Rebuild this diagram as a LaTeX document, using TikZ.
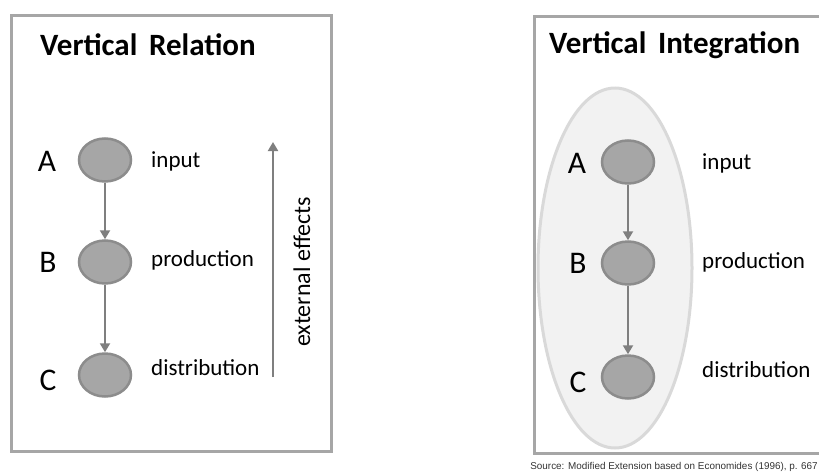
\documentclass[tikz,border=0pt]{standalone}
\usepackage{fontspec}
\setmainfont{Carlito}
\newfontfamily\srcfont{Liberation Sans}
\usetikzlibrary{shapes.geometric,arrows.meta}
\definecolor{frameGray}{HTML}{A6A6A6}
\definecolor{nodeFill}{HTML}{A6A6A6}
\definecolor{nodeLine}{HTML}{8C8C8C}
\definecolor{flowGray}{HTML}{7F7F7F}
\definecolor{groupFill}{HTML}{F2F2F2}
\definecolor{groupLine}{HTML}{D9D9D9}
\tikzset{
  panel/.style={draw=frameGray, line width=3pt},
  stage/.style={ellipse, draw=nodeLine, fill=nodeFill, line width=2.5pt,
    minimum width=52pt, minimum height=43pt, inner sep=0pt},
  flow/.style={draw=flowGray, line width=2pt, -{Triangle[width=10pt,length=9pt]}},
  heading/.style={font=\fontsize{31}{31}\selectfont\bfseries, anchor=west, inner sep=0pt},
  letter/.style={font=\fontsize{31.5}{31.5}\selectfont, inner sep=0pt},
  tag/.style={font=\fontsize{23}{23}\selectfont, anchor=west, inner sep=0pt},
  group/.style={ellipse, draw=groupLine, fill=groupFill, line width=3pt,
    minimum width=154pt, minimum height=360pt, inner sep=0pt},
  source/.style={font=\srcfont\fontsize{9.9}{9.9}\selectfont, text=black!80, anchor=east, inner sep=0pt}
}
\begin{document}
\begin{tikzpicture}[x=1pt, y=-1pt]
  \useasboundingbox (0,0) rectangle (819,474);
  \clip (0,0) rectangle (819,474);

  % left panel: vertical relation
  \draw[panel] (11.5,15.5) rectangle (331.5,451.5);
  \node[heading] (t1) at (40,45) {Vertical\hspace{0.15em} Relation};

  \node[stage] (a1) at (105,160) {};
  \node[stage] (b1) at (105,262) {};
  \node[stage] (c1) at (105,375) {};
  \draw[flow] (a1) -- (b1);
  \draw[flow] (b1) -- (c1);

  \node[letter] (la1) at (47,161) {A};
  \node[letter] (lb1) at (48,262) {B};
  \node[letter] (lc1) at (48,380) {C};

  \node[tag] (i1) at (151,161) {input};
  \node[tag] (p1) at (151,260) {production};
  \node[tag] (d1) at (151,368) {distribution};

  \coordinate (e0) at (273,377);
  \coordinate (e1) at (273,142);
  \draw[flow] (e0) -- (e1);
  \node[tag, anchor=center, rotate=90, font=\fontsize{24}{24}\selectfont] (ext) at (302,272) {external effects};

  % right panel: vertical integration
  \draw[panel] (534.5,16.5) rectangle (840,453.5);
  \node[heading] (t2) at (549,45) {Vertical\hspace{0.15em} Integration};

  \node[group] (grp) at (615,268) {};

  \node[stage] (a2) at (628,162) {};
  \node[stage] (b2) at (628,263) {};
  \node[stage] (c2) at (628,377) {};
  \draw[flow] (a2) -- (b2);
  \draw[flow] (b2) -- (c2);

  \node[letter] (la2) at (577,163) {A};
  \node[letter] (lb2) at (578,263) {B};
  \node[letter] (lc2) at (578,382) {C};

  \node[tag] (i2) at (702,163) {input};
  \node[tag] (p2) at (702,262) {production};
  \node[tag] (d2) at (702,370) {distribution};

  \node[source] (src) at (818,467) {Source: Modified Extension based on Economides (1996), p. 667};
\end{tikzpicture}
\end{document}
